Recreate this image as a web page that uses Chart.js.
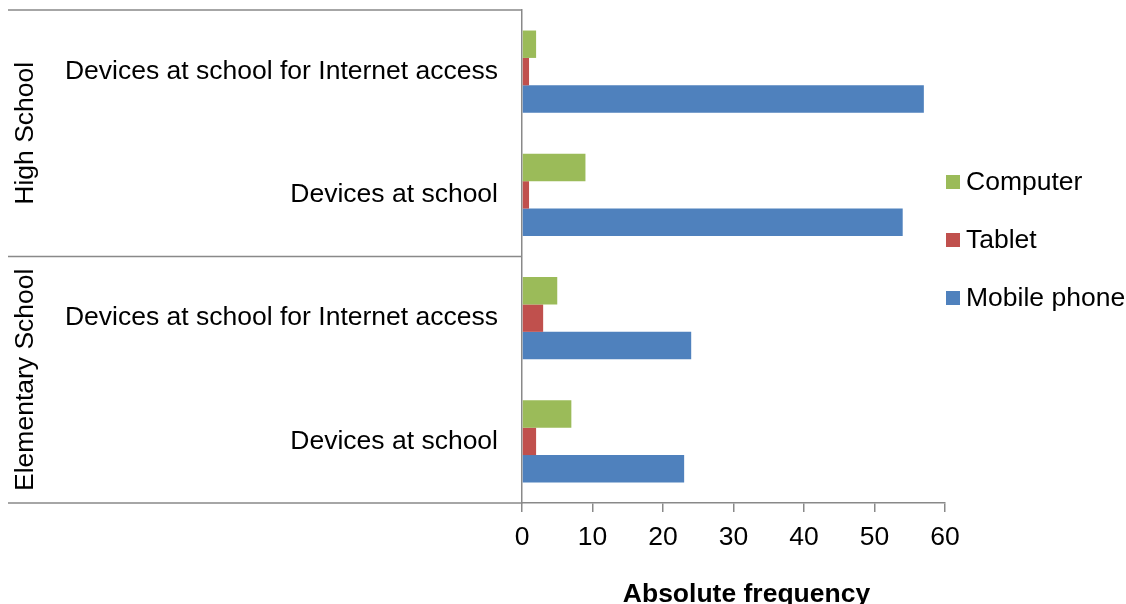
<!DOCTYPE html>
<html>
<head>
<meta charset="utf-8">
<script src="https://cdn.jsdelivr.net/npm/chart.js@4/dist/chart.umd.min.js"></script>
<style>
  html, body { margin: 0; padding: 0; background: #ffffff; }
  #wrap { width: 1126px; height: 604px; position: relative; }
  canvas { display: block; }
</style>
</head>
<body>
<div id="wrap"><canvas id="c" width="1126" height="604"></canvas></div>
<script>
// Categories, top to bottom
const categories = [
  'Devices at school for Internet access',
  'Devices at school',
  'Devices at school for Internet access',
  'Devices at school'
];
// Outer grouping of the categories (label, number of categories it spans)
const groupNames = ['High School', 'Elementary School'];
const groupSizes = [2, 2];

// Series values (absolute frequency)
const seriesNames = ['Computer', 'Tablet', 'Mobile phone'];
const computer = [2, 9, 5, 7];
const tablet = [1, 1, 3, 2];
const mobilePhone = [57, 54, 24, 23];

// Value axis
const xMin = 0, xMax = 60, xStep = 10;
const xTitle = 'Absolute frequency';

const colors = ['#9BBB59', '#C0504D', '#4F81BD'];
const axisGray = '#898989';
const FONT = '"Liberation Sans", Arial, sans-serif';
const FS = 26.5;

Chart.defaults.font.family = FONT;
Chart.defaults.font.size = FS;
Chart.defaults.color = '#000000';

const decorations = {
  id: 'decorations',
  afterDraw(chart) {
    const ctx = chart.ctx;
    const ca = chart.chartArea;
    const y = chart.scales.y;
    const x = chart.scales.x;
    const leftEdge = 8;
    ctx.save();
    ctx.strokeStyle = axisGray;
    ctx.lineWidth = 1.5;

    // group boundaries across the label column
    const bounds = [ca.top];
    let idx = 0;
    groupSizes.forEach(n => {
      idx += n;
      if (idx < categories.length) {
        bounds.push((y.getPixelForValue(idx - 1) + y.getPixelForValue(idx)) / 2);
      } else {
        bounds.push(ca.bottom);
      }
    });
    bounds.forEach(b => {
      ctx.beginPath();
      ctx.moveTo(leftEdge, b);
      ctx.lineTo(ca.left, b);
      ctx.stroke();
    });

    // group labels, rotated
    ctx.fillStyle = '#000000';
    ctx.font = FS + 'px ' + FONT;
    ctx.textAlign = 'center';
    ctx.textBaseline = 'middle';
    groupNames.forEach((g, i) => {
      const cy = (bounds[i] + bounds[i + 1]) / 2;
      ctx.save();
      ctx.translate(26, cy);
      ctx.rotate(-Math.PI / 2);
      ctx.fillText(g, 0, 0);
      ctx.restore();
    });

    // axis title
    ctx.font = 'bold ' + FS + 'px ' + FONT;
    ctx.textBaseline = 'alphabetic';
    ctx.fillText(xTitle, (x.left + x.right) / 2 + 13, 602);

    // legend
    ctx.font = FS + 'px ' + FONT;
    ctx.textAlign = 'left';
    ctx.textBaseline = 'middle';
    const lx = 946, ly0 = 182, gap = 58, box = 14;
    chart.data.datasets.forEach((ds, i) => {
      const cy = ly0 + i * gap;
      ctx.fillStyle = ds.backgroundColor;
      ctx.fillRect(lx, cy - box / 2, box, box);
      ctx.fillStyle = '#000000';
      ctx.fillText(ds.label, lx + box + 6, cy + 1);
    });
    ctx.restore();
  }
};

new Chart(document.getElementById('c'), {
  type: 'bar',
  data: {
    labels: categories,
    datasets: [
      { label: seriesNames[0], data: computer, backgroundColor: colors[0] },
      { label: seriesNames[1], data: tablet, backgroundColor: colors[1] },
      { label: seriesNames[2], data: mobilePhone, backgroundColor: colors[2] }
    ]
  },
  options: {
    indexAxis: 'y',
    responsive: false,
    animation: false,
    devicePixelRatio: 1,
    layout: { padding: { left: 8, top: 10, right: 181, bottom: 0 } },
    datasets: { bar: { categoryPercentage: 0.667, barPercentage: 1.0 } },
    plugins: { legend: { display: false }, tooltip: { enabled: false } },
    scales: {
      x: {
        min: xMin, max: xMax,
        ticks: { stepSize: xStep, padding: 10, color: '#000000', font: { size: FS } },
        grid: { drawOnChartArea: false, drawTicks: true, tickLength: 9, color: axisGray, lineWidth: 1.5 },
        border: { color: axisGray, width: 1.5 },
        afterFit(s) { s.height = 101; }
      },
      y: {
        ticks: { padding: 24, color: '#000000', font: { size: FS, lineHeight: 1.35 } },
        grid: { display: false, drawTicks: false },
        border: { color: axisGray, width: 1.5 },
        afterFit(s) { s.width = 514; s.paddingTop = 0; s.paddingBottom = 0; }
      }
    }
  },
  plugins: [decorations]
});
</script>
</body>
</html>
